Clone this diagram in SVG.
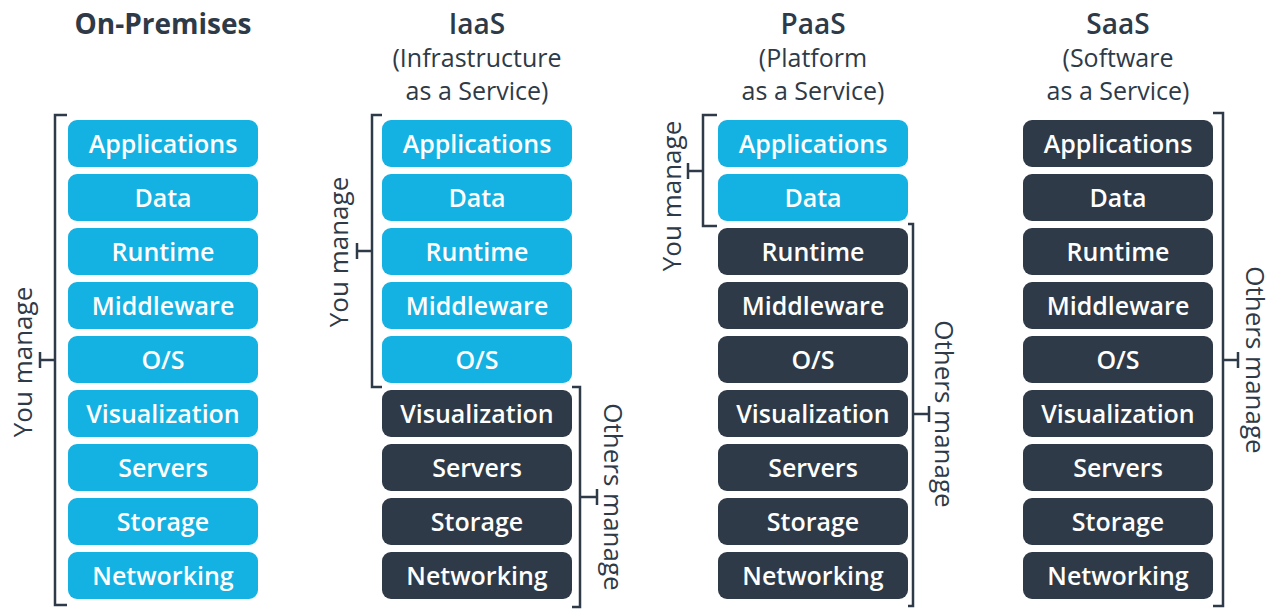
<svg xmlns="http://www.w3.org/2000/svg" width="1280" height="614" viewBox="0 0 1280 614">
<style>
.bg{fill:#ffffff}
.b rect{fill:#14b1e3}
.d rect{fill:#2e3a47}
.n text{font-family:"Open Sans","Noto Sans",sans-serif;font-weight:600;font-size:25px;fill:#ffffff;text-anchor:middle}
.h{font-family:"Open Sans","Noto Sans",sans-serif;fill:#2e3a47;text-anchor:middle}
.h1{font-weight:700;font-size:28px}
.h2{font-size:25px}
.br{fill:none;stroke:#2e3a47;stroke-width:2.5}
.lab{font-family:"Open Sans","Noto Sans",sans-serif;font-size:26px;fill:#2e3a47;text-anchor:middle}
</style>
<rect class="bg" width="1280" height="614"/>

<!-- headers -->
<g id="headers">
<text class="h h1" x="163" y="34">On-Premises</text>
<text class="h h1" x="477" y="34" style="font-weight:600">IaaS</text>
<text class="h h2" x="477" y="67">(Infrastructure</text>
<text class="h h2" x="477" y="100">as a Service)</text>
<text class="h h1" x="813" y="34" style="font-weight:600">PaaS</text>
<text class="h h2" x="813" y="67">(Platform</text>
<text class="h h2" x="813" y="100">as a Service)</text>
<text class="h h1" x="1118" y="34" style="font-weight:600">SaaS</text>
<text class="h h2" x="1118" y="67">(Software</text>
<text class="h h2" x="1118" y="100">as a Service)</text>
</g>

<!-- On-Premises column -->
<g id="onprem" class="n" transform="translate(163,0)">
<g id="op-app" class="b"><rect x="-95" y="120" width="190" height="47" rx="9"/><text y="153">Applications</text></g>
<g id="op-data" class="b"><rect x="-95" y="174" width="190" height="47" rx="9"/><text y="207">Data</text></g>
<g id="op-runtime" class="b"><rect x="-95" y="228" width="190" height="47" rx="9"/><text y="261">Runtime</text></g>
<g id="op-mw" class="b"><rect x="-95" y="282" width="190" height="47" rx="9"/><text y="315">Middleware</text></g>
<g id="op-os" class="b"><rect x="-95" y="336" width="190" height="47" rx="9"/><text y="369">O/S</text></g>
<g id="op-vis" class="b"><rect x="-95" y="390" width="190" height="47" rx="9"/><text y="423">Visualization</text></g>
<g id="op-srv" class="b"><rect x="-95" y="444" width="190" height="47" rx="9"/><text y="477">Servers</text></g>
<g id="op-sto" class="b"><rect x="-95" y="498" width="190" height="47" rx="9"/><text y="531">Storage</text></g>
<g id="op-net" class="b"><rect x="-95" y="552" width="190" height="47" rx="9"/><text y="585">Networking</text></g>
</g>

<!-- IaaS column -->
<g id="iaas" class="n" transform="translate(477,0)">
<g id="ia-app" class="b"><rect x="-95" y="120" width="190" height="47" rx="9"/><text y="153">Applications</text></g>
<g id="ia-data" class="b"><rect x="-95" y="174" width="190" height="47" rx="9"/><text y="207">Data</text></g>
<g id="ia-runtime" class="b"><rect x="-95" y="228" width="190" height="47" rx="9"/><text y="261">Runtime</text></g>
<g id="ia-mw" class="b"><rect x="-95" y="282" width="190" height="47" rx="9"/><text y="315">Middleware</text></g>
<g id="ia-os" class="b"><rect x="-95" y="336" width="190" height="47" rx="9"/><text y="369">O/S</text></g>
<g id="ia-vis" class="d"><rect x="-95" y="390" width="190" height="47" rx="9"/><text y="423">Visualization</text></g>
<g id="ia-srv" class="d"><rect x="-95" y="444" width="190" height="47" rx="9"/><text y="477">Servers</text></g>
<g id="ia-sto" class="d"><rect x="-95" y="498" width="190" height="47" rx="9"/><text y="531">Storage</text></g>
<g id="ia-net" class="d"><rect x="-95" y="552" width="190" height="47" rx="9"/><text y="585">Networking</text></g>
</g>

<!-- PaaS column -->
<g id="paas" class="n" transform="translate(813,0)">
<g id="pa-app" class="b"><rect x="-95" y="120" width="190" height="47" rx="9"/><text y="153">Applications</text></g>
<g id="pa-data" class="b"><rect x="-95" y="174" width="190" height="47" rx="9"/><text y="207">Data</text></g>
<g id="pa-runtime" class="d"><rect x="-95" y="228" width="190" height="47" rx="9"/><text y="261">Runtime</text></g>
<g id="pa-mw" class="d"><rect x="-95" y="282" width="190" height="47" rx="9"/><text y="315">Middleware</text></g>
<g id="pa-os" class="d"><rect x="-95" y="336" width="190" height="47" rx="9"/><text y="369">O/S</text></g>
<g id="pa-vis" class="d"><rect x="-95" y="390" width="190" height="47" rx="9"/><text y="423">Visualization</text></g>
<g id="pa-srv" class="d"><rect x="-95" y="444" width="190" height="47" rx="9"/><text y="477">Servers</text></g>
<g id="pa-sto" class="d"><rect x="-95" y="498" width="190" height="47" rx="9"/><text y="531">Storage</text></g>
<g id="pa-net" class="d"><rect x="-95" y="552" width="190" height="47" rx="9"/><text y="585">Networking</text></g>
</g>

<!-- SaaS column -->
<g id="saas" class="n" transform="translate(1118,0)">
<g id="sa-app" class="d"><rect x="-95" y="120" width="190" height="47" rx="9"/><text y="153">Applications</text></g>
<g id="sa-data" class="d"><rect x="-95" y="174" width="190" height="47" rx="9"/><text y="207">Data</text></g>
<g id="sa-runtime" class="d"><rect x="-95" y="228" width="190" height="47" rx="9"/><text y="261">Runtime</text></g>
<g id="sa-mw" class="d"><rect x="-95" y="282" width="190" height="47" rx="9"/><text y="315">Middleware</text></g>
<g id="sa-os" class="d"><rect x="-95" y="336" width="190" height="47" rx="9"/><text y="369">O/S</text></g>
<g id="sa-vis" class="d"><rect x="-95" y="390" width="190" height="47" rx="9"/><text y="423">Visualization</text></g>
<g id="sa-srv" class="d"><rect x="-95" y="444" width="190" height="47" rx="9"/><text y="477">Servers</text></g>
<g id="sa-sto" class="d"><rect x="-95" y="498" width="190" height="47" rx="9"/><text y="531">Storage</text></g>
<g id="sa-net" class="d"><rect x="-95" y="552" width="190" height="47" rx="9"/><text y="585">Networking</text></g>
</g>

<!-- brackets -->
<g id="brackets">
<path class="br" d="M67,115 H55 V605 H67 M55,360 H40 M40,352 V368"/>
<path class="br" d="M382,115 H372 V387 H382 M372,251 H357 M357,243 V259"/>
<path class="br" d="M572,387 H580 V607 H572 M580,497 H597 M597,489 V505"/>
<path class="br" d="M717,115 H703 V226 H717 M703,171 H688 M688,163 V179"/>
<path class="br" d="M908,224 H913 V606 H908 M913,414 H929 M929,406 V422"/>
<path class="br" d="M1213,113 H1223 V606 H1213 M1223,360 H1238 M1238,352 V368"/>
</g>

<!-- bracket labels -->
<g id="labels">
<text class="lab" transform="translate(32,362) rotate(-90)">You manage</text>
<text class="lab" transform="translate(348,252) rotate(-90)">You manage</text>
<text class="lab" transform="translate(681,196) rotate(-90)">You manage</text>
<text class="lab" transform="translate(604,497) rotate(90)">Others manage</text>
<text class="lab" transform="translate(935,414) rotate(90)">Others manage</text>
<text class="lab" transform="translate(1246,360) rotate(90)">Others manage</text>
</g>
</svg>
